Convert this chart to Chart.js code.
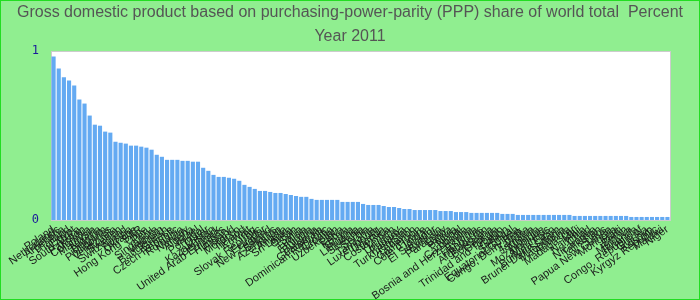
<!DOCTYPE html>
<html>
<head>
<meta charset="utf-8">
<script src="https://cdn.jsdelivr.net/npm/chart.js@4/dist/chart.umd.min.js"></script>
<style>
  html, body { margin: 0; padding: 0; background: #90ee90; }
  canvas { display: block; }
</style>
</head>
<body>
<canvas id="chart" width="700" height="300"></canvas>
<script>
const titleLines = ['Gross domestic product based on purchasing-power-parity (PPP) share of world total  Percent', 'Year 2011'];

const countries = [
  'Poland', 'Netherlands', 'Argentina', 'Thailand', 'Egypt', 'South Africa', 'Pakistan', 'Colombia',
  'Malaysia', 'Nigeria', 'Belgium', 'Philippines', 'Venezuela', 'Sweden', 'Switzerland', 'Austria',
  'Ukraine', 'Hong Kong SAR', 'Chile', 'Peru', 'Singapore', 'Vietnam', 'Bangladesh', 'Greece',
  'Czech Republic', 'Romania', 'Norway', 'Algeria', 'Israel', 'Portugal', 'Qatar', 'Kazakhstan',
  'Denmark', 'United Arab Emirates', 'Hungary', 'Finland', 'Morocco', 'Ireland', 'Kuwait', 'Iraq',
  'Slovak Republic', 'Ecuador', 'New Zealand', 'Belarus', 'Azerbaijan', 'Angola', 'Sri Lanka', 'Oman',
  'Syria', 'Tunisia', 'Ethiopia', 'Bulgaria', 'Guatemala', 'Dominican Republic', 'Croatia', 'Uzbekistan',
  'Libya', 'Kenya', 'Ghana', 'Lithuania', 'Slovenia', 'Serbia', 'Tanzania', 'Luxembourg',
  'Uganda', 'Costa Rica', 'Yemen', 'Uruguay', 'Panama', 'Turkmenistan', 'Lebanon', 'Cameroon',
  "Côte d'Ivoire", 'Jordan', 'El Salvador', 'Bahrain', 'Paraguay', 'Latvia', 'Bolivia', 'Nepal',
  'Cambodia', 'Bosnia and Herzegovina', 'Estonia', 'Honduras', 'Afghanistan', 'Botswana', 'Georgia', 'Trinidad and Tobago',
  'Gabon', 'Senegal', 'Equatorial Guinea', 'Congo, Dem. Rep.', 'Zambia', 'Jamaica', 'Albania', 'Mozambique',
  'Mauritius', 'Burkina Faso', 'Brunei Darussalam', 'Macedonia', 'Armenia', 'Madagascar', 'Mali', 'Namibia',
  'Chad', 'Nicaragua', 'Tajikistan', 'Laos', 'Papua New Guinea', 'Mongolia', 'Haiti', 'Benin',
  'Moldova', 'Rwanda', 'Congo, Republic of', 'Guinea', 'Kosovo', 'Kyrgyz Republic', 'Malawi', 'Niger'
];

const shares = [
  0.968, 0.897, 0.844, 0.826, 0.796, 0.713, 0.689, 0.618,
  0.564, 0.558, 0.523, 0.517, 0.463, 0.457, 0.452, 0.44,
  0.44, 0.434, 0.428, 0.416, 0.386, 0.374, 0.356, 0.356,
  0.356, 0.35, 0.35, 0.345, 0.345, 0.309, 0.291, 0.267,
  0.255, 0.255, 0.25, 0.244, 0.232, 0.208, 0.196, 0.184,
  0.172, 0.172, 0.166, 0.16, 0.16, 0.154, 0.148, 0.142,
  0.137, 0.137, 0.125, 0.119, 0.119, 0.119, 0.119, 0.119,
  0.107, 0.107, 0.107, 0.107, 0.095, 0.089, 0.089, 0.089,
  0.083, 0.077, 0.077, 0.071, 0.065, 0.065, 0.059, 0.059,
  0.059, 0.059, 0.059, 0.053, 0.053, 0.053, 0.047, 0.047,
  0.047, 0.042, 0.042, 0.042, 0.042, 0.042, 0.042, 0.036,
  0.036, 0.036, 0.03, 0.03, 0.03, 0.03, 0.03, 0.03,
  0.03, 0.03, 0.03, 0.03, 0.03, 0.024, 0.024, 0.024,
  0.024, 0.024, 0.024, 0.024, 0.024, 0.024, 0.024, 0.024,
  0.018, 0.018, 0.018, 0.018, 0.018, 0.018, 0.018, 0.018
];

const yTicks = [0, 1];

// background, frame and white plot area
const backdrop = {
  id: 'backdrop',
  beforeDraw(chart) {
    const { ctx, chartArea: a } = chart;
    ctx.save();
    ctx.fillStyle = '#90ee90';
    ctx.fillRect(0, 0, chart.width, chart.height);
    ctx.strokeStyle = '#22dd22';
    ctx.lineWidth = 1;
    ctx.strokeRect(0.5, 0.5, chart.width - 1, chart.height - 1);
    ctx.fillStyle = '#ffffff';
    ctx.fillRect(a.left, a.top, a.right - a.left, a.bottom - a.top);
    ctx.strokeStyle = '#cccccc';
    ctx.strokeRect(a.left + 0.5, a.top + 0.5, a.right - a.left, a.bottom - a.top);
    ctx.restore();
  }
};

new Chart(document.getElementById('chart'), {
  type: 'bar',
  data: {
    labels: countries,
    datasets: [{
      data: shares,
      backgroundColor: '#64aaf2',
      categoryPercentage: 1.0,
      barPercentage: 0.8
    }]
  },
  options: {
    responsive: false,
    animation: false,
    devicePixelRatio: 1,
    layout: { padding: 0 },
    plugins: {
      legend: { display: false },
      tooltip: { enabled: false },
      title: {
        display: true,
        text: titleLines,
        color: '#555555',
        font: { family: "'Liberation Sans', Arial, sans-serif", size: 16, weight: 'normal', lineHeight: 1.5 },
        padding: { top: 1, bottom: 2 }
      }
    },
    scales: {
      x: {
        grid: { display: false, drawTicks: false },
        border: { display: false },
        ticks: {
          autoSkip: false,
          minRotation: 35,
          maxRotation: 35,
          padding: 3,
          color: '#1a1a1a',
          font: { family: "'Liberation Sans', Arial, sans-serif", size: 11 }
        },
        afterFit(scale) { scale.height = 80; }
      },
      y: {
        min: 0,
        max: 1,
        grid: { display: false, drawTicks: false },
        border: { display: false },
        afterBuildTicks(scale) { scale.ticks = yTicks.map(v => ({ value: v })); },
        ticks: {
          padding: 12,
          color: '#1a1a9a',
          font: { family: "'DejaVu Sans Mono', monospace", size: 12 }
        },
        afterFit(scale) { scale.width = 51; }
      },
      // empty right margin so the title stays centred on the whole canvas
      yRight: {
        type: 'linear',
        position: 'right',
        grid: { display: false, drawTicks: false },
        border: { display: false },
        ticks: { display: false },
        afterFit(scale) { scale.width = 30; }
      }
    }
  },
  plugins: [backdrop]
});
</script>
</body>
</html>
